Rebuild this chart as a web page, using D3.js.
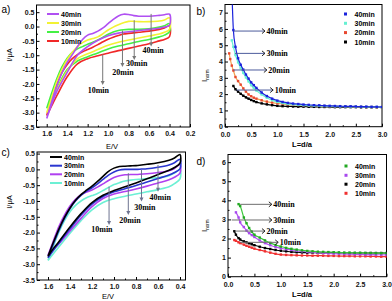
<!DOCTYPE html>
<html>
<head>
<meta charset="utf-8">
<script src="https://cdn.jsdelivr.net/npm/d3@7"></script>
<style>
body { margin: 0; background: #fff; }
svg { display: block; font-family: "Liberation Sans", Arial, sans-serif; }
</style>
</head>
<body>
<script>
// series labels (same order in every panel)
var times = ["40min", "30min", "20min", "10min"];

// a) and c): potential grid, forward scan 1.6 -> 0.4 V, then the return scan
var eUp = [1.6, 1.55, 1.5, 1.45, 1.4, 1.35, 1.3, 1.25, 1.2, 1.15, 1.1, 1.05, 1.0, 0.95, 0.9, 0.85, 0.8, 0.75, 0.7, 0.6, 0.5, 0.45, 0.4];
var eLow = [0.4, 0.45, 0.5, 0.6, 0.7, 0.8, 0.9, 1.0, 1.1, 1.2, 1.3, 1.4, 1.5, 1.55, 1.6];

// a) current, uA
var a40Up = [-3.2, -2.6, -2.05, -1.6, -1.25, -0.98, -0.7, -0.45, -0.3, -0.24, -0.16, -0.05, 0.1, 0.25, 0.37, 0.43, 0.42, 0.38, 0.36, 0.36, 0.39, 0.41, 0.43];
var a30Up = [-3.0, -2.45, -1.9, -1.48, -1.15, -0.9, -0.7, -0.56, -0.47, -0.42, -0.36, -0.25, -0.12, -0.02, 0.06, 0.13, 0.18, 0.18, 0.17, 0.17, 0.19, 0.23, 0.3];
var a20Up = [-2.85, -2.3, -1.8, -1.4, -1.1, -0.9, -0.78, -0.7, -0.62, -0.55, -0.47, -0.37, -0.27, -0.19, -0.14, -0.11, -0.1, -0.1, -0.1, -0.08, -0.02, 0.03, 0.1];
var a10Up = [-3.1, -2.5, -2.0, -1.6, -1.32, -1.12, -0.98, -0.88, -0.8, -0.72, -0.63, -0.53, -0.44, -0.37, -0.31, -0.26, -0.24, -0.22, -0.2, -0.16, -0.1, -0.05, 0.02];
var a40Low = [0.05, -0.02, -0.06, -0.1, -0.14, -0.18, -0.23, -0.32, -0.48, -0.7, -1.0, -1.6, -2.25, -2.7, -3.2];
var a30Low = [-0.1, -0.2, -0.26, -0.33, -0.4, -0.47, -0.55, -0.65, -0.8, -0.95, -1.12, -1.55, -2.2, -2.58, -3.0];
var a20Low = [-0.18, -0.3, -0.36, -0.45, -0.52, -0.6, -0.68, -0.78, -0.92, -1.05, -1.2, -1.5, -2.15, -2.48, -2.85];
var a10Low = [-0.35, -0.45, -0.5, -0.6, -0.68, -0.76, -0.84, -0.93, -1.02, -1.12, -1.3, -1.75, -2.4, -2.75, -3.1];

// c) current, uA
var c40Up = [-2.75, -2.3, -1.88, -1.52, -1.22, -0.98, -0.8, -0.66, -0.53, -0.38, -0.22, -0.06, 0.04, 0.09, 0.1, 0.11, 0.12, 0.14, 0.16, 0.21, 0.29, 0.36, 0.47];
var c30Up = [-2.8, -2.35, -1.92, -1.55, -1.24, -1.0, -0.82, -0.69, -0.58, -0.46, -0.32, -0.18, -0.08, -0.02, 0.0, 0.0, 0.0, 0.01, 0.02, 0.07, 0.14, 0.21, 0.32];
var c20Up = [-2.72, -2.25, -1.8, -1.45, -1.16, -0.95, -0.8, -0.72, -0.65, -0.56, -0.46, -0.35, -0.26, -0.2, -0.17, -0.16, -0.16, -0.15, -0.14, -0.1, -0.04, 0.03, 0.15];
var c10Up = [-2.88, -2.42, -1.98, -1.62, -1.34, -1.14, -1.0, -0.9, -0.83, -0.76, -0.67, -0.57, -0.48, -0.42, -0.37, -0.34, -0.32, -0.31, -0.29, -0.26, -0.2, -0.12, 0.0];
var c40Low = [0.2, 0.06, -0.03, -0.16, -0.3, -0.43, -0.55, -0.67, -0.82, -1.05, -1.4, -1.82, -2.28, -2.5, -2.75];
var c30Low = [0.02, -0.1, -0.18, -0.29, -0.4, -0.51, -0.61, -0.71, -0.86, -1.1, -1.45, -1.88, -2.33, -2.56, -2.8];
var c20Low = [-0.12, -0.25, -0.33, -0.43, -0.53, -0.62, -0.7, -0.78, -0.92, -1.18, -1.55, -1.95, -2.35, -2.53, -2.72];
var c10Low = [-0.3, -0.45, -0.55, -0.64, -0.71, -0.78, -0.85, -0.93, -1.05, -1.28, -1.62, -2.02, -2.45, -2.66, -2.88];

// b) normalised current vs L
var lB = [0.08, 0.1, 0.13, 0.16, 0.2, 0.25, 0.3, 0.35, 0.4, 0.45, 0.5, 0.55, 0.6, 0.7, 0.8, 0.9, 1.0, 1.1, 1.2, 1.3, 1.4, 1.5, 1.6, 1.7, 1.8, 1.9, 2.0, 2.1, 2.2, 2.3, 2.4, 2.5, 2.6, 2.7, 2.8, 2.9, 3.0];
var b40 = [null, null, 8.5, 5.93, 4.9, 4.2, 3.8, 3.5, 3.2, 2.95, 2.72, 2.55, 2.38, 2.1, 1.88, 1.72, 1.6, 1.52, 1.46, 1.42, 1.39, 1.36, 1.34, 1.32, 1.31, 1.29, 1.28, 1.27, 1.26, 1.25, 1.25, 1.24, 1.23, 1.23, 1.22, 1.22, 1.21];
var b30 = [null, null, 5.3, 4.9, 4.4, 3.95, 3.6, 3.3, 3.02, 2.78, 2.55, 2.38, 2.22, 1.98, 1.78, 1.63, 1.52, 1.45, 1.4, 1.37, 1.34, 1.32, 1.3, 1.29, 1.28, 1.27, 1.26, 1.25, 1.24, 1.24, 1.23, 1.23, 1.22, 1.22, 1.21, 1.21, 1.2];
var b20 = [4.5, 4.15, 3.75, 3.45, 3.05, 2.8, 2.58, 2.35, 2.15, 1.98, 1.87, 1.78, 1.72, 1.62, 1.54, 1.48, 1.43, 1.4, 1.37, 1.35, 1.33, 1.31, 1.3, 1.29, 1.28, 1.27, 1.26, 1.25, 1.24, 1.24, 1.23, 1.22, 1.22, 1.21, 1.21, 1.2, 1.2];
var b10 = [null, null, null, 2.5, 2.3, 2.15, 2.02, 1.9, 1.8, 1.72, 1.64, 1.57, 1.51, 1.43, 1.37, 1.32, 1.28, 1.26, 1.25, 1.24, 1.23, 1.23, 1.22, 1.22, 1.21, 1.21, 1.21, 1.2, 1.2, 1.2, 1.2, 1.2, 1.19, 1.19, 1.19, 1.19, 1.19];

// d) normalised current vs L
var lD = [0.12, 0.15, 0.2, 0.23, 0.3, 0.35, 0.4, 0.45, 0.5, 0.6, 0.7, 0.8, 0.9, 1.0, 1.1, 1.2, 1.3, 1.4, 1.5, 1.6, 1.7, 1.8, 1.9, 2.0, 2.1, 2.2, 2.3, 2.4, 2.5, 2.6, 2.7, 2.8, 2.9, 3.0];
var d40 = [null, null, 3.8, 3.7, 3.1, 2.8, 2.55, 2.36, 2.2, 2.05, 1.9, 1.77, 1.66, 1.58, 1.51, 1.46, 1.42, 1.38, 1.35, 1.33, 1.31, 1.3, 1.29, 1.28, 1.27, 1.26, 1.26, 1.25, 1.25, 1.24, 1.24, 1.23, 1.23, 1.23];
var d30 = [null, 3.37, 3.1, 2.85, 2.6, 2.42, 2.28, 2.18, 2.08, 1.9, 1.76, 1.65, 1.56, 1.49, 1.44, 1.4, 1.36, 1.33, 1.3, 1.28, 1.26, 1.24, 1.22, 1.21, 1.2, 1.19, 1.18, 1.17, 1.17, 1.16, 1.16, 1.15, 1.15, 1.14];
var d20 = [2.38, 2.2, 2.02, 1.95, 1.85, 1.8, 1.75, 1.7, 1.65, 1.57, 1.5, 1.45, 1.4, 1.36, 1.33, 1.3, 1.28, 1.27, 1.26, 1.26, 1.25, 1.25, 1.25, 1.25, 1.25, 1.24, 1.24, 1.24, 1.24, 1.24, 1.24, 1.24, 1.24, 1.24];
var d10 = [1.92, 1.88, 1.8, 1.76, 1.68, 1.62, 1.57, 1.52, 1.47, 1.4, 1.33, 1.26, 1.2, 1.16, 1.14, 1.13, 1.12, 1.11, 1.11, 1.1, 1.1, 1.1, 1.09, 1.09, 1.08, 1.08, 1.08, 1.07, 1.07, 1.07, 1.06, 1.06, 1.05, 1.05];

// tick values
var cvYTicks = [-3.5, -3, -2.5, -2, -1.5, -1, -0.5, 0, 0.5];
var aXTicks = [1.6, 1.4, 1.2, 1.0, 0.8, 0.6, 0.4, 0.2];
var cXTicks = [1.6, 1.4, 1.2, 1.0, 0.8, 0.6, 0.4];
var lTicks = [0, 0.5, 1.0, 1.5, 2.0, 2.5, 3.0];
var bYTicks = [0, 1, 2, 3, 4, 5, 6, 7];
var dYTicks = [0, 1, 2, 3, 4, 5, 6];

var svg = d3.select("body").append("svg").attr("width", 392).attr("height", 301);

function mids(t) {
  var m = [];
  for (var i = 1; i < t.length; i++) m.push((t[i - 1] + t[i]) / 2);
  return m;
}

function frame(id, x, y, xt, yt, fx, fy, xpad) {
  var xr = x.range(), yr = y.range();
  var g = svg.append("g");
  svg.append("clipPath").attr("id", id).append("rect")
    .attr("x", xr[0]).attr("y", yr[1]).attr("width", xr[1] - xr[0]).attr("height", yr[0] - yr[1]);

  g.append("g").attr("transform", "translate(0," + yr[0] + ")")
    .call(d3.axisBottom(x).tickValues(xt).tickFormat(fx).tickSizeInner(-3).tickSizeOuter(0).tickPadding(xpad));
  g.append("g").attr("transform", "translate(0," + yr[0] + ")")
    .call(d3.axisBottom(x).tickValues(mids(xt)).tickFormat("").tickSizeInner(-1.5).tickSizeOuter(0));
  g.append("g").attr("transform", "translate(" + xr[0] + ",0)")
    .call(d3.axisLeft(y).tickValues(yt).tickFormat(fy).tickSizeInner(-3).tickSizeOuter(0).tickPadding(2));
  g.append("g").attr("transform", "translate(" + xr[0] + ",0)")
    .call(d3.axisLeft(y).tickValues(mids(yt)).tickFormat("").tickSizeInner(-1.5).tickSizeOuter(0));
  g.selectAll(".domain").remove();
  g.selectAll(".tick text").attr("font-size", 7).attr("font-weight", "bold")
    .attr("font-family", "Liberation Sans, Arial, sans-serif").attr("fill", "#111");

  g.append("rect").attr("x", xr[0]).attr("y", yr[1])
    .attr("width", xr[1] - xr[0]).attr("height", yr[0] - yr[1])
    .attr("fill", "none").attr("stroke", "#000").attr("stroke-width", 1);
  return svg.append("g").attr("clip-path", "url(#" + id + ")");
}

var f1 = function(d) { return d.toFixed(1); };
var f0 = function(d) { return String(d); };

function text(x, y, s, size, opts) {
  opts = opts || {};
  return svg.append("text").attr("x", x).attr("y", y).text(s)
    .attr("font-size", size)
    .attr("font-weight", opts.bold ? "bold" : "normal")
    .attr("font-family", opts.serif ? "Liberation Serif, Times New Roman, serif" : "Liberation Sans, Arial, sans-serif")
    .attr("text-anchor", opts.anchor || "start")
    .attr("fill", "#000");
}

function cvPanel(id, x, y, xt, series, notes, noteColor, legY, legX) {
  var plot = frame(id, x, y, xt, cvYTicks, f1, f1, 4);
  var line = d3.line().x(function(d) { return x(d[0]); }).y(function(d) { return y(d[1]); })
    .curve(d3.curveCatmullRom.alpha(0.5));
  series.slice().reverse().forEach(function(s) {
    var pts = eUp.map(function(e, i) { return [e, s.up[i]]; })
      .concat(eLow.map(function(e, i) { return [e, s.low[i]]; }));
    plot.append("path").attr("d", line(pts)).attr("fill", "none")
      .attr("stroke", s.color).attr("stroke-width", 1.6).attr("stroke-linejoin", "round");
  });
  notes.forEach(function(n) {
    var px = x(n.e), p0 = y(n.i0), p1 = y(n.i1);
    svg.append("line").attr("x1", px).attr("x2", px).attr("y1", p0).attr("y2", p1 - 3)
      .attr("stroke", noteColor).attr("stroke-width", 1);
    svg.append("path").attr("d", "M" + (px - 2) + "," + (p1 - 4) + "L" + (px + 2) + "," + (p1 - 4) + "L" + px + "," + p1 + "Z")
      .attr("fill", noteColor);
    text(x(n.le), y(n.li), n.t, 8, { bold: true, serif: true, anchor: "middle" });
  });
  series.forEach(function(s, i) {
    svg.append("line").attr("x1", legX).attr("x2", legX + 12).attr("y1", legY[i]).attr("y2", legY[i])
      .attr("stroke", s.color).attr("stroke-width", 2);
    text(legX + 14, legY[i] + 2.5, s.name, 7, { bold: true });
  });
}

function normPanel(id, x, y, yt, ls, series, notes, noteColor, legY, legX) {
  var plot = frame(id, x, y, lTicks, yt, f1, f0, 5);
  series.slice().reverse().forEach(function(s) {
    var pts = ls.map(function(l, i) { return [l, s.v[i]]; }).filter(function(p) { return p[1] != null; });
    plot.append("path")
      .attr("d", d3.line().x(function(d) { return x(d[0]); }).y(function(d) { return y(d[1]); })
        .curve(d3.curveMonotoneX)(pts))
      .attr("fill", "none").attr("stroke", s.line).attr("stroke-width", 1.2);
    plot.selectAll(null).data(pts).enter().append("rect")
      .attr("x", function(d) { return x(d[0]) - 1.2; })
      .attr("y", function(d) { return y(d[1]) - 1.2; })
      .attr("width", 2.4).attr("height", 2.4).attr("fill", s.mark);
  });
  notes.forEach(function(n) {
    var py = y(n.i), p0 = x(n.l0), p1 = x(n.l1);
    svg.append("line").attr("x1", p0).attr("x2", p1).attr("y1", py).attr("y2", py)
      .attr("stroke", noteColor).attr("stroke-width", 1);
    svg.append("path").attr("d", "M" + (p1 - 3) + "," + (py - 2.5) + "L" + p1 + "," + py + "L" + (p1 - 3) + "," + (py + 2.5))
      .attr("fill", "none").attr("stroke", "#222").attr("stroke-width", 1);
    text(p1 + 1.5, py + 3, n.t, 8, { bold: true, serif: true });
  });
  series.forEach(function(s, i) {
    svg.append("rect").attr("x", legX - 1.5).attr("y", legY[i] - 1.5).attr("width", 3).attr("height", 3).attr("fill", s.mark);
    text(legX + 9, legY[i] + 2.5, s.name, 7, { bold: true });
  });
}

// ---------- a) ----------
var xa = d3.scaleLinear().domain([1.7, 0.2]).range([36.5, 190]);
var ya = d3.scaleLinear().domain([-3.5, 0.75]).range([127, 5]);
cvPanel("ca", xa, ya, aXTicks, [
  { name: times[0], color: "#b050f2", up: a40Up, low: a40Low },
  { name: times[1], color: "#f2f234", up: a30Up, low: a30Low },
  { name: times[2], color: "#44f044", up: a20Up, low: a20Low },
  { name: times[3], color: "#f02828", up: a10Up, low: a10Low }
], [
  { t: "40min", e: 0.58, i0: 0.44, i1: -0.7, le: 0.56, li: -0.93 },
  { t: "30min", e: 0.745, i0: 0.22, i1: -1.17, le: 0.72, li: -1.38 },
  { t: "20min", e: 0.86, i0: -0.14, i1: -1.41, le: 0.855, li: -1.69 },
  { t: "10min", e: 1.053, i0: -0.97, i1: -2.04, le: 1.096, li: -2.32 }
], "#777", [14, 23, 32, 41], 47);

// ---------- c) ----------
var xc = d3.scaleLinear().domain([1.7, 0.35]).range([37, 185.5]);
var yc = d3.scaleLinear().domain([-3.5, 0.55]).range([280, 152]);
cvPanel("cc", xc, yc, cXTicks, [
  { name: times[0], color: "#000000", up: c40Up, low: c40Low },
  { name: times[1], color: "#2a36d0", up: c30Up, low: c30Low },
  { name: times[2], color: "#b040f0", up: c20Up, low: c20Low },
  { name: times[3], color: "#6cf0d4", up: c10Up, low: c10Low }
], [
  { t: "40min", e: 0.6, i0: 0.14, i1: -0.71, le: 0.58, li: -0.97 },
  { t: "30min", e: 0.75, i0: -0.02, i1: -1.02, le: 0.72, li: -1.29 },
  { t: "20min", e: 0.87, i0: -0.12, i1: -1.44, le: 0.855, li: -1.7 },
  { t: "10min", e: 1.045, i0: -0.55, i1: -1.76, le: 1.11, li: -1.98 }
], "#6d7390", [157, 165.7, 174.3, 183], 50);

// ---------- b) ----------
var xb = d3.scaleLinear().domain([0, 3]).range([225, 382]);
var yb = d3.scaleLinear().domain([0, 7.5]).range([126.7, 4.5]);
normPanel("cb", xb, yb, bYTicks, lB, [
  { name: times[0], line: "#1a22dc", mark: "#1a22dc", v: b40 },
  { name: times[1], line: "#66f0d2", mark: "#66f0d2", v: b30 },
  { name: times[2], line: "#f2a050", mark: "#e84830", v: b20 },
  { name: times[3], line: "#000000", mark: "#000000", v: b10 }
], [
  { t: "40min", l0: 0.16, l1: 0.764, i: 5.87 },
  { t: "30min", l0: 0.19, l1: 0.764, i: 4.5 },
  { t: "20min", l0: 0.16, l1: 0.8, i: 3.48 },
  { t: "10min", l0: 0.22, l1: 0.92, i: 2.25 }
], "#4d5c9c", [14, 23.3, 32.6, 42], 345.5);

// ---------- d) ----------
var xd = d3.scaleLinear().domain([0, 3]).range([228, 386.5]);
var yd = d3.scaleLinear().domain([0, 6.4]).range([276.7, 154.5]);
normPanel("cd", xd, yd, dYTicks, lD, [
  { name: times[0], line: "#3cc83c", mark: "#22a822", v: d40 },
  { name: times[1], line: "#b458f2", mark: "#a848ee", v: d30 },
  { name: times[2], line: "#000000", mark: "#000000", v: d20 },
  { name: times[3], line: "#f03030", mark: "#f03030", v: d10 }
], [
  { t: "40min", l0: 0.23, l1: 0.83, i: 3.79 },
  { t: "30min", l0: 0.07, l1: 0.83, i: 2.97 },
  { t: "20min", l0: 0.13, l1: 0.7, i: 2.39 },
  { t: "10min", l0: 0.23, l1: 0.95, i: 1.8 }
], "#6e6e6e", [166, 175.3, 184.2, 193.3], 346);

// ---------- axis titles and panel letters ----------
function yTitle(x, y, s) {
  return svg.append("text").attr("transform", "translate(" + x + "," + y + ") rotate(-90)")
    .attr("text-anchor", "middle").attr("font-size", 7.5).text(s);
}
yTitle(11.5, 55, "I/\u03bcA");
yTitle(11.5, 202, "I/\u03bcA");
text(112, 149, "E/V", 7.5, { anchor: "middle" });
text(108, 298.5, "E/V", 7.5, { anchor: "middle" });

function normTitle(x, y) {
  var t = svg.append("text").attr("transform", "translate(" + x + "," + y + ") rotate(-90)")
    .attr("font-size", 8);
  t.append("tspan").text("I");
  t.append("tspan").attr("font-size", 4.5).attr("dy", 2).text("norm");
}
normTitle(206.5, 82);
normTitle(206.5, 232);
text(302, 147, "L=d/a", 7.5, { anchor: "middle", bold: true });
text(302, 297, "L=d/a", 7.5, { anchor: "middle", bold: true });

text(1.5, 13, "a)", 10);
text(196.5, 15, "b)", 10);
text(1.5, 156, "c)", 10);
text(196.5, 165, "d)", 10);
</script>
</body>
</html>
